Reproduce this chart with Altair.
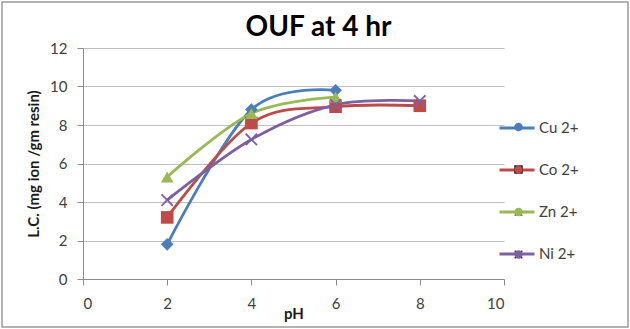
import altair as alt
import pandas as pd

# pH values and L.C. (mg ion / gm resin) for each metal ion, OUF at 4 hr
ph = [2, 4, 6, 8]
ions = ["Cu 2+", "Co 2+", "Zn 2+", "Ni 2+"]
cu = [1.8, 8.8, 9.8, None]
co = [3.2, 8.1, 8.95, 9.0]
zn = [5.3, 8.6, 9.45, None]
ni = [4.1, 7.25, 9.05, 9.25]

x_ticks = [0, 2, 4, 6, 8, 10]
y_ticks = [0, 2, 4, 6, 8, 10, 12]

colors = ["#4a7ebb", "#be4b48", "#98b954", "#7d60a0"]
# thin "x" drawn as a filled outline so it can share the filled-point layer
x_mark = "M-1,-0.8L-0.8,-1L0,-0.2L0.8,-1L1,-0.8L0.2,0L1,0.8L0.8,1L0,0.2L-0.8,1L-1,0.8L-0.2,0Z"
shapes = ["diamond", "square", "triangle-up", x_mark]

rows = []
for name, vals in zip(ions, [cu, co, zn, ni]):
    for p, v in zip(ph, vals):
        if v is not None:
            rows.append({"pH": p, "lc": v, "ion": name, "metal": name})
df = pd.DataFrame(rows)

FONT = "Lato"
LABEL = "#404040"

x_axis = alt.Axis(
    title="pH", values=x_ticks, grid=False,
    titleFontSize=15, titleFontWeight="bold", titleColor="#1a1a1a",
    titleBaseline="alphabetic", titleY=39, labelPadding=11,
)
y_axis = alt.Axis(
    title="L.C. (mg ion /gm resin)", values=y_ticks, tickCount=7,
    titleFontSize=15, titleFontWeight="bold", titleColor="#1a1a1a",
    titleBaseline="alphabetic", titleX=-45, labelOverlap=False, labelPadding=10,
)
x_scale = alt.Scale(domain=[0, 10])
y_scale = alt.Scale(domain=[0, 12])

# legend entries shared by the fill and shape channels of the marker layer
marker_legend = alt.Legend(
    title=None, orient="none", legendX=428, legendY=71.5,
    symbolSize=70, symbolStrokeWidth=0,
    labelFont=FONT, labelFontSize=15, labelExpr="''",
    rowPadding=26.5,
)

lines = alt.Chart(df).mark_line(interpolate="cardinal", strokeWidth=2.8).encode(
    x=alt.X("pH:Q", scale=x_scale, axis=x_axis),
    y=alt.Y("lc:Q", scale=y_scale, axis=y_axis),
    stroke=alt.Stroke(
        "metal:N",
        sort=ions,
        scale=alt.Scale(range=colors),
        legend=alt.Legend(
            title=None, orient="none", legendX=415, legendY=61,
            symbolType="stroke", symbolSize=1225, symbolStrokeWidth=3,
            labelFont=FONT, labelFontSize=15, labelColor=LABEL,
            labelOffset=3, rowPadding=15,
        ),
    ),
    detail="metal:N",
)

points = alt.Chart(df).mark_point(filled=True, size=160, opacity=1).encode(
    x=alt.X("pH:Q", scale=x_scale, axis=x_axis),
    y=alt.Y("lc:Q", scale=y_scale, axis=y_axis),
    fill=alt.Fill("ion:N", sort=ions, scale=alt.Scale(range=colors), legend=marker_legend),
    shape=alt.Shape("ion:N", sort=ions, scale=alt.Scale(range=shapes), legend=marker_legend),
)

# thin border around the whole chart
frame = alt.Chart(pd.DataFrame({"frame": [0]})).mark_rect(
    fill="transparent", stroke="#9a9a9a", strokeWidth=1.5
).encode(
    x=alt.value(-81), x2=alt.value(545), y=alt.value(-46), y2=alt.value(279),
)

chart = alt.layer(frame, lines, points).properties(
    width=421,
    height=231,
    padding={"left": 83, "top": 48, "right": 126, "bottom": 50},
    autosize=alt.AutoSizeParams(type="none"),
    background="white",
    title=alt.TitleParams(
        "OUF at 4 hr", font=FONT, fontSize=28, fontWeight="bold",
        color="#000000", anchor="middle", frame="group", dx=25, dy=26,
        baseline="alphabetic", offset=-37,
    ),
).configure_view(stroke=None).configure_axis(
    labelFont=FONT, titleFont=FONT, labelFontSize=15, labelColor=LABEL,
    domainColor="#8c8c8c", tickColor="#8c8c8c", gridColor="#c0c0c0",
    tickSize=6,
)

chart.save("out.html", embed_options={"renderer": "svg", "actions": False})
